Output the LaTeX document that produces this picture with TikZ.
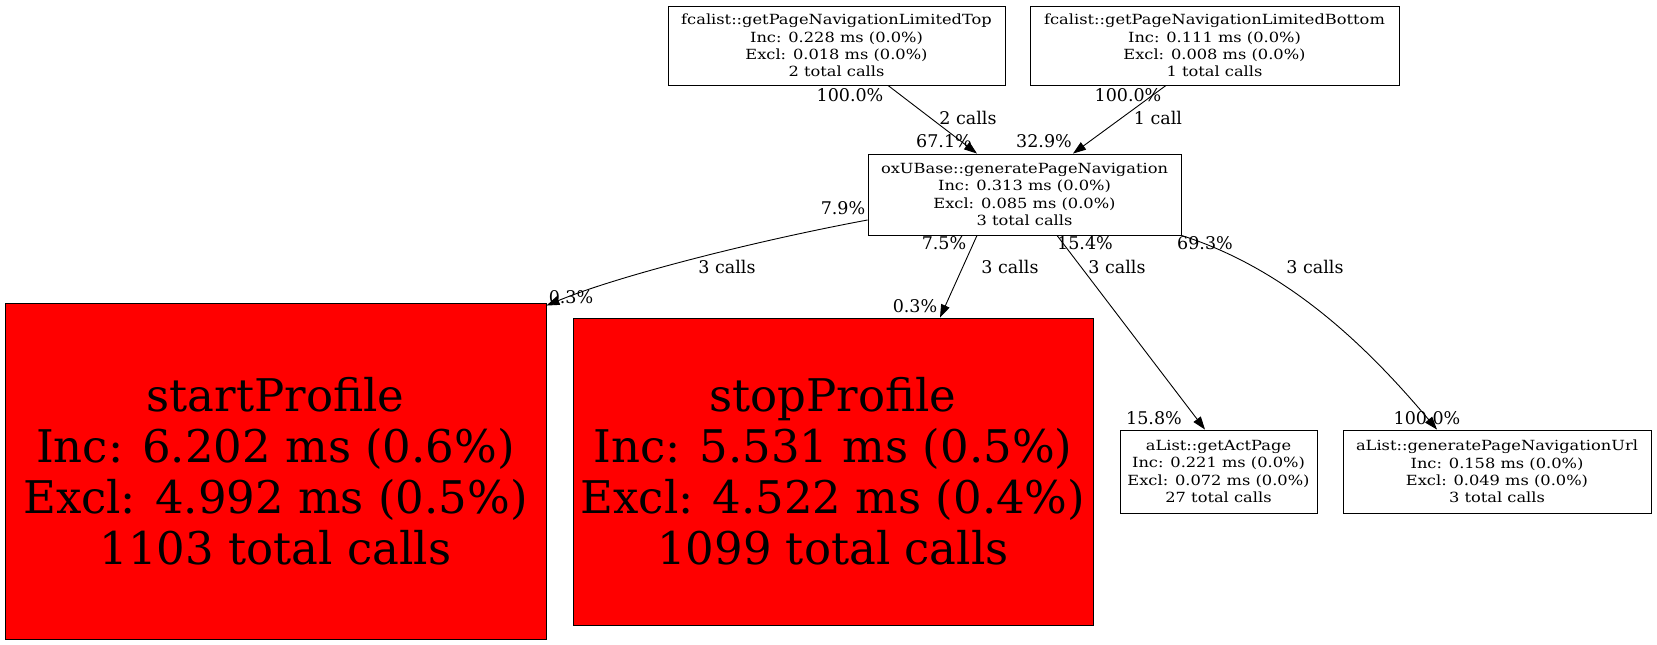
\documentclass[tikz,border=0pt]{standalone}
\usepackage{fontspec}
\setmainfont{DejaVu Serif}
\newfontfamily\widefont[FakeStretch=1.16]{DejaVu Serif}
\usetikzlibrary{arrows.meta,calc}
\tikzset{
  fn/.style={draw=black, line width=0.9pt, inner sep=0pt, align=center,
    font=\widefont\fontsize{14}{17.3}\selectfont},
  bign/.style={fn, fill=red, font=\fontsize{45}{51}\selectfont},
  edge/.style={draw=black, line width=0.9pt, -{Triangle[length=13pt,width=9pt]}},
  lab/.style={inner sep=0pt, font=\fontsize{17.5}{20}\selectfont}
}
\begin{document}
\begin{tikzpicture}[x=1pt,y=-1pt]
\useasboundingbox (0,0) rectangle (1657,645);
\node[fn, minimum width=337pt, minimum height=79pt] (top1) at (836.5,45.5)
  {fcalist::getPageNavigationLimitedTop\\Inc: 0.228 ms (0.0\%)\\Excl: 0.018 ms (0.0\%)\\2 total calls};
\node[fn, minimum width=369pt, minimum height=79pt] (top2) at (1214.5,45.5)
  {fcalist::getPageNavigationLimitedBottom\\Inc: 0.111 ms (0.0\%)\\Excl: 0.008 ms (0.0\%)\\1 total calls};
\node[fn, minimum width=313pt, minimum height=81pt] (mid) at (1024.5,194.5)
  {oxUBase::generatePageNavigation\\Inc: 0.313 ms (0.0\%)\\Excl: 0.085 ms (0.0\%)\\3 total calls};
\node[bign, minimum width=541pt, minimum height=336pt] (start) at (275.5,471)
  {startProfile\\Inc: 6.202 ms (0.6\%)\\Excl: 4.992 ms (0.5\%)\\1103 total calls};
\node[bign, minimum width=520pt, minimum height=307pt] (stop) at (833,471.5)
  {stopProfile\\Inc: 5.531 ms (0.5\%)\\Excl: 4.522 ms (0.4\%)\\1099 total calls};
\node[fn, minimum width=197pt, minimum height=83pt] (act) at (1218.5,471.5)
  {aList::getActPage\\Inc: 0.221 ms (0.0\%)\\Excl: 0.072 ms (0.0\%)\\27 total calls};
\node[fn, minimum width=308pt, minimum height=83pt] (url) at (1497,471.5)
  {aList::generatePageNavigationUrl\\Inc: 0.158 ms (0.0\%)\\Excl: 0.049 ms (0.0\%)\\3 total calls};

% edges
\draw[edge] ($(top1.south)+(51.5,0)$) -- ($(mid.north)+(-47.5,0)$);
\draw[edge] ($(top2.south)+(-48.5,0)$) -- ($(mid.north)+(48.5,0)$);
\draw[edge] ($(mid.west)+(0,25.5)$) .. controls (760,240) and (620,275) .. ($(start.north east)+(0,3)$);
\draw[edge] ($(mid.south)+(-47.5,0)$) -- ($(stop.north)+(107,0)$);
\draw[edge] ($(mid.south)+(32.5,0)$) -- ($(act.north)+(-13.5,0)$);
\draw[edge] (mid.south east) .. controls (1290,270) and (1370,350) .. ($(url.north)+(-60,0)$);

% labels
\node[lab] (l1a) at (850,95) {100.0\%};
\node[lab] (l1b) at (968,118) {2 calls};
\node[lab] (l1c) at (944,141) {67.1\%};
\node[lab] (l2a) at (1128,95) {100.0\%};
\node[lab] (l2b) at (1158,118) {1 call};
\node[lab] (l2c) at (1044,141) {32.9\%};
\node[lab] (l3a) at (843,208) {7.9\%};
\node[lab] (l3b) at (727,267) {3 calls};
\node[lab] (l3c) at (571,297) {0.3\%};
\node[lab] (l4a) at (944,243) {7.5\%};
\node[lab] (l4b) at (1010,267) {3 calls};
\node[lab] (l4c) at (915,306) {0.3\%};
\node[lab] (l5a) at (1085,243) {15.4\%};
\node[lab] (l5b) at (1117,267) {3 calls};
\node[lab] (l5c) at (1154,418) {15.8\%};
\node[lab] (l6a) at (1205,243) {69.3\%};
\node[lab] (l6b) at (1315,267) {3 calls};
\node[lab] (l6c) at (1427,418) {100.0\%};
\end{tikzpicture}
\end{document}
